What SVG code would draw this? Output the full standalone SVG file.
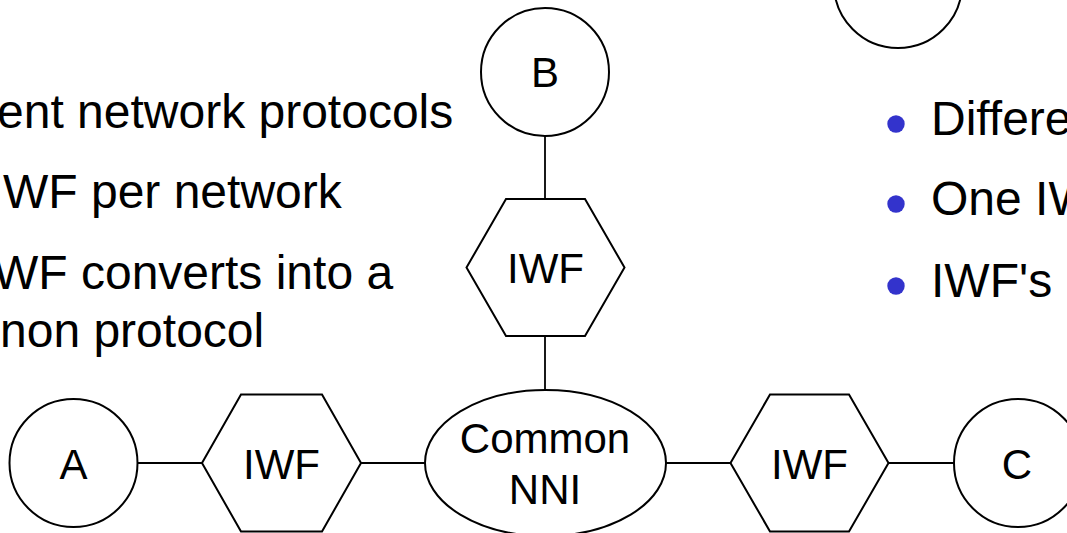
<svg xmlns="http://www.w3.org/2000/svg" width="1067" height="533" viewBox="0 0 1067 533">
<style>
.shape{fill:#fff;stroke:#000;stroke-width:2}
.conn line{stroke:#000;stroke-width:1.8}
.lbl{font-family:"Liberation Sans",Arial,sans-serif;font-size:42px;fill:#000;text-anchor:middle}
.txt{font-family:"Liberation Sans",Arial,sans-serif;font-size:48px;fill:#000}
.bul{fill:#3333cc}
</style>
<rect width="1067" height="533" fill="#fff"/>
<g id="text-left">
<text class="txt" x="-3" y="128">ent network protocols</text>
<text class="txt" x="3" y="208">WF per network</text>
<text class="txt" x="-7" y="289">WF converts into a</text>
<text class="txt" x="0" y="347">non protocol</text>
</g>
<g id="text-right">
<circle class="bul" cx="896" cy="124" r="8.7"/>
<circle class="bul" cx="896" cy="204" r="8.7"/>
<circle class="bul" cx="896" cy="286" r="8.7"/>
<text class="txt" x="931" y="135">Differe</text>
<text class="txt" x="931" y="215">One IW</text>
<text class="txt" x="931" y="297">IWF's</text>
</g>
<g id="connectors" class="conn">
<line x1="137.5" y1="463" x2="202" y2="463"/>
<line x1="361" y1="463" x2="425" y2="463"/>
<line x1="666" y1="463" x2="730.5" y2="463"/>
<line x1="888.5" y1="463" x2="954" y2="463"/>
<line x1="545" y1="136" x2="545" y2="199"/>
<line x1="545" y1="336" x2="545" y2="390"/>
</g>
<g id="node-top-right"><circle class="shape" cx="898" cy="-16" r="64"/></g>
<g id="node-A"><circle class="shape" cx="73.5" cy="463" r="64"/><text class="lbl" x="73.5" y="479">A</text></g>
<g id="node-B"><circle class="shape" cx="545" cy="72" r="64"/><text class="lbl" x="545" y="87">B</text></g>
<g id="node-C"><circle class="shape" cx="1018" cy="463" r="64"/><text class="lbl" x="1017" y="479">C</text></g>
<g id="node-IWF-A"><polygon class="shape" points="202,463 241,394.5 322,394.5 361,463 322,531.5 241,531.5"/><text class="lbl" x="281.5" y="479">IWF</text></g>
<g id="node-IWF-B"><polygon class="shape" points="466.5,267.5 506,199 585,199 624.5,267.5 585,336 506,336"/><text class="lbl" x="545.5" y="283">IWF</text></g>
<g id="node-IWF-C"><polygon class="shape" points="730.5,463 770,394.5 849,394.5 888.5,463 849,531.5 770,531.5"/><text class="lbl" x="809.5" y="479">IWF</text></g>
<g id="node-NNI"><ellipse class="shape" cx="545.5" cy="463" rx="120.5" ry="73"/><text class="lbl" x="545" y="453">Common</text><text class="lbl" x="545" y="504">NNI</text></g>
</svg>
